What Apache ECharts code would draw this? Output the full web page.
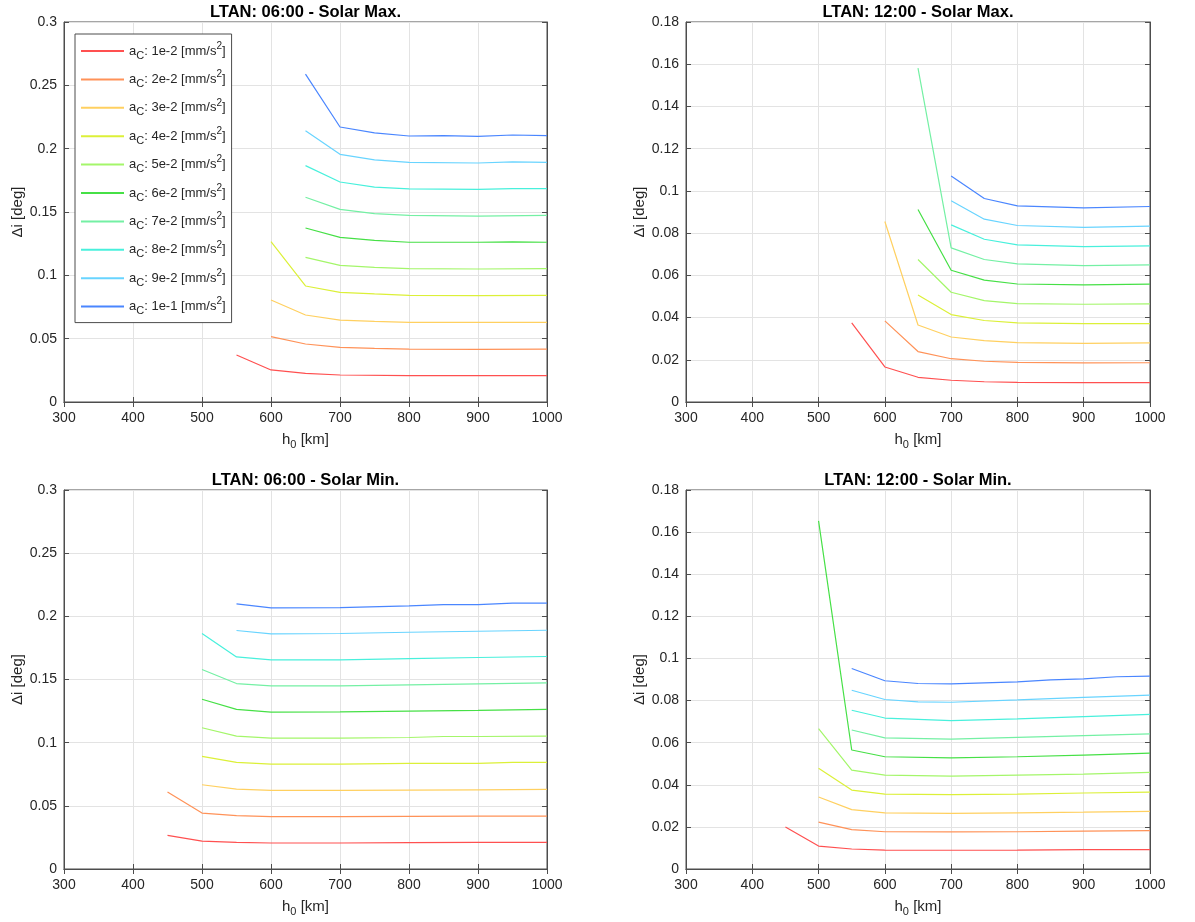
<!DOCTYPE html>
<html>
<head>
<meta charset="utf-8">
<script src="https://cdn.jsdelivr.net/npm/echarts@6/dist/echarts.min.js"></script>
<style>
  html, body { margin: 0; padding: 0; background: #fff; }
  #chart { width: 1195px; height: 922px; }
</style>
</head>
<body>
<div id="chart"></div>
<script>
// ---- data ----
const accelLabels = ['1e-2', '2e-2', '3e-2', '4e-2', '5e-2', '6e-2', '7e-2', '8e-2', '9e-2', '1e-1'];
const seriesColors = ['#ff5050', '#ff9258', '#ffd060', '#dcf038', '#a4f66a', '#46e046', '#74f0a4', '#48f0dc', '#68d4ff', '#4a86ff'];

const titles = ['LTAN: 06:00 - Solar Max.', 'LTAN: 12:00 - Solar Max.', 'LTAN: 06:00 - Solar Min.', 'LTAN: 12:00 - Solar Min.'];
const xTickMin = 300, xTickMax = 1000, xTickStep = 100;
const yMaxLeft = 0.3, yStepLeft = 0.05;
const yMaxRight = 0.18, yStepRight = 0.02;

// LTAN 06:00 - Solar Max : altitude [km] and delta-i [deg] per acceleration level
const alt06Max = [
  [550, 600, 650, 700, 800, 900, 1000],
  [600, 650, 700, 750, 800, 900, 1000],
  [600, 650, 700, 750, 800, 900, 1000],
  [600, 650, 700, 750, 800, 900, 1000],
  [650, 700, 750, 800, 900, 1000],
  [650, 700, 750, 800, 900, 950, 1000],
  [650, 700, 750, 800, 900, 1000],
  [650, 700, 750, 800, 900, 950, 1000],
  [650, 700, 750, 800, 900, 950, 1000],
  [650, 700, 750, 800, 850, 900, 950, 1000]
];
const di06Max = [
  [0.0371, 0.0253, 0.0226, 0.0213, 0.0208, 0.0208, 0.0208],
  [0.0516, 0.0458, 0.0432, 0.0424, 0.0418, 0.0416, 0.0418],
  [0.0805, 0.0687, 0.0647, 0.0637, 0.0629, 0.0629, 0.0629],
  [0.1266, 0.0916, 0.0866, 0.0853, 0.0842, 0.0840, 0.0842],
  [0.1142, 0.1079, 0.1063, 0.1053, 0.1050, 0.1053],
  [0.1374, 0.1300, 0.1276, 0.1261, 0.1261, 0.1264, 0.1261],
  [0.1616, 0.1521, 0.1487, 0.1474, 0.1468, 0.1474],
  [0.1866, 0.1737, 0.1697, 0.1682, 0.1679, 0.1684, 0.1684],
  [0.2142, 0.1955, 0.1911, 0.1892, 0.1887, 0.1895, 0.1892],
  [0.2589, 0.2171, 0.2124, 0.2100, 0.2103, 0.2097, 0.2108, 0.2103]
];

// LTAN 12:00 - Solar Max
const alt12Max = [
  [550, 600, 650, 700, 750, 800, 900, 1000],
  [600, 650, 700, 750, 800, 900, 1000],
  [600, 650, 700, 750, 800, 900, 1000],
  [650, 700, 750, 800, 900, 1000],
  [650, 700, 750, 800, 900, 1000],
  [650, 700, 750, 800, 900, 1000],
  [650, 700, 750, 800, 900, 1000],
  [700, 750, 800, 900, 1000],
  [700, 750, 800, 900, 1000],
  [700, 750, 800, 900, 1000]
];
const di12Max = [
  [0.0375, 0.0166, 0.0117, 0.0103, 0.0096, 0.0093, 0.0092, 0.0092],
  [0.0384, 0.0239, 0.0205, 0.0193, 0.0188, 0.0185, 0.0186],
  [0.0855, 0.0365, 0.0308, 0.0291, 0.0281, 0.0278, 0.0280],
  [0.0507, 0.0414, 0.0386, 0.0375, 0.0371, 0.0371],
  [0.0675, 0.0520, 0.0480, 0.0466, 0.0463, 0.0465],
  [0.0912, 0.0624, 0.0577, 0.0559, 0.0555, 0.0558],
  [0.1582, 0.0730, 0.0675, 0.0654, 0.0646, 0.0650],
  [0.0839, 0.0771, 0.0744, 0.0736, 0.0740],
  [0.0953, 0.0866, 0.0836, 0.0827, 0.0833],
  [0.1070, 0.0964, 0.0929, 0.0920, 0.0926]
];

// LTAN 06:00 - Solar Min
const alt06Min = [
  [450, 500, 550, 600, 700, 800, 900, 1000],
  [450, 500, 550, 600, 700, 800, 900, 1000],
  [500, 550, 600, 700, 800, 900, 1000],
  [500, 550, 600, 700, 800, 900, 950, 1000],
  [500, 550, 600, 700, 800, 850, 900, 1000],
  [500, 550, 600, 700, 800, 900, 1000],
  [500, 550, 600, 700, 800, 900, 1000],
  [500, 550, 600, 700, 800, 900, 1000],
  [550, 600, 700, 800, 900, 1000],
  [550, 600, 700, 800, 850, 900, 950, 1000]
];
const di06Min = [
  [0.0266, 0.0221, 0.0211, 0.0206, 0.0206, 0.0208, 0.0211, 0.0211],
  [0.0609, 0.0443, 0.0422, 0.0414, 0.0414, 0.0417, 0.0419, 0.0419],
  [0.0667, 0.0633, 0.0622, 0.0622, 0.0625, 0.0627, 0.0630],
  [0.0891, 0.0844, 0.0830, 0.0830, 0.0836, 0.0836, 0.0844, 0.0844],
  [0.1118, 0.1052, 0.1036, 0.1036, 0.1041, 0.1049, 0.1049, 0.1052],
  [0.1344, 0.1263, 0.1242, 0.1244, 0.1250, 0.1255, 0.1263],
  [0.1579, 0.1468, 0.1450, 0.1450, 0.1458, 0.1466, 0.1474],
  [0.1864, 0.1679, 0.1655, 0.1655, 0.1666, 0.1674, 0.1682],
  [0.1888, 0.1861, 0.1864, 0.1874, 0.1882, 0.1890],
  [0.2098, 0.2067, 0.2069, 0.2083, 0.2093, 0.2093, 0.2104, 0.2104]
];

// LTAN 12:00 - Solar Min
const alt12Min = [
  [450, 500, 550, 600, 700, 800, 900, 1000],
  [500, 550, 600, 700, 800, 900, 1000],
  [500, 550, 600, 700, 800, 900, 1000],
  [500, 550, 600, 700, 800, 900, 1000],
  [500, 550, 600, 700, 800, 900, 1000],
  [500, 550, 600, 700, 800, 900, 1000],
  [550, 600, 700, 800, 900, 1000],
  [550, 600, 700, 800, 900, 1000],
  [550, 600, 650, 700, 800, 900, 1000],
  [550, 600, 650, 700, 800, 850, 900, 950, 1000]
];
const di12Min = [
  [0.0199, 0.0109, 0.0095, 0.0090, 0.0089, 0.0090, 0.0092, 0.0092],
  [0.0223, 0.0187, 0.0177, 0.0176, 0.0177, 0.0180, 0.0182],
  [0.0342, 0.0282, 0.0267, 0.0264, 0.0267, 0.0270, 0.0274],
  [0.0478, 0.0375, 0.0356, 0.0353, 0.0356, 0.0361, 0.0365],
  [0.0667, 0.0470, 0.0446, 0.0441, 0.0446, 0.0451, 0.0459],
  [0.1653, 0.0565, 0.0533, 0.0528, 0.0533, 0.0541, 0.0550],
  [0.0660, 0.0623, 0.0617, 0.0625, 0.0633, 0.0642],
  [0.0754, 0.0717, 0.0705, 0.0713, 0.0724, 0.0734],
  [0.0849, 0.0805, 0.0794, 0.0792, 0.0803, 0.0815, 0.0826],
  [0.0952, 0.0894, 0.0881, 0.0879, 0.0889, 0.0898, 0.0903, 0.0913, 0.0916]
];

// ---- chart ----
const FONT = "'Liberation Sans', Arial, Helvetica, sans-serif";
const AX = '#4d4d4d';
const TXT = '#262626';

const panelAlts = [alt06Max, alt12Max, alt06Min, alt12Min];
const panelDis = [di06Max, di12Max, di06Min, di12Min];
const panelYMax = [yMaxLeft, yMaxRight, yMaxLeft, yMaxRight];
const panelYStep = [yStepLeft, yStepRight, yStepLeft, yStepRight];

const grids = [
  { left: 64, top: 22, width: 483, height: 380 },
  { left: 686, top: 22, width: 464, height: 380 },
  { left: 64, top: 490, width: 483, height: 379 },
  { left: 686, top: 490, width: 464, height: 379 }
];

const xAxes = [], yAxes = [], series = [], graphics = [];
grids.forEach((g, p) => {
  g.show = true; g.borderColor = AX; g.borderWidth = 1; g.backgroundColor = '#fff';
  xAxes.push({
    type: 'value', gridIndex: p, min: xTickMin, max: xTickMax, interval: xTickStep,
    position: 'bottom',
    axisLine: { show: true, lineStyle: { color: AX, width: 1 } },
    axisTick: { show: true, inside: true, length: 5, lineStyle: { color: AX } },
    axisLabel: { color: TXT, fontSize: 14, fontFamily: FONT, margin: 9, formatter: v => String(v) },
    splitLine: { show: true, lineStyle: { color: '#e3e3e3', width: 1 } },
    name: '{b|h}{s|0}{b| [km]}', nameLocation: 'middle', nameGap: 28,
    nameTextStyle: {
      rich: {
        b: { fontSize: 15, fontFamily: FONT, color: TXT, lineHeight: 20, verticalAlign: 'middle' },
        s: { fontSize: 11, fontFamily: FONT, color: TXT, lineHeight: 10, verticalAlign: 'bottom' }
      }
    }
  });
  xAxes.push({
    type: 'value', gridIndex: p, min: xTickMin, max: xTickMax, interval: xTickStep,
    position: 'top',
    axisLine: { show: true, lineStyle: { color: AX, width: 1 } },
    axisTick: { show: true, inside: true, length: 5, lineStyle: { color: AX } },
    axisLabel: { show: false }, splitLine: { show: false }
  });
  yAxes.push({
    type: 'value', gridIndex: p, min: 0, max: panelYMax[p], interval: panelYStep[p],
    position: 'left',
    axisLine: { show: true, lineStyle: { color: AX, width: 1 } },
    axisTick: { show: true, inside: true, length: 5, lineStyle: { color: AX } },
    axisLabel: { color: TXT, fontSize: 14, fontFamily: FONT, margin: 7 },
    splitLine: { show: true, lineStyle: { color: '#e3e3e3', width: 1 } },
    name: '\u0394i [deg]', nameLocation: 'middle', nameGap: 37,
    nameTextStyle: { fontSize: 15, fontFamily: FONT, color: TXT }
  });
  yAxes.push({
    type: 'value', gridIndex: p, min: 0, max: panelYMax[p], interval: panelYStep[p],
    position: 'right',
    axisLine: { show: true, lineStyle: { color: AX, width: 1 } },
    axisTick: { show: true, inside: true, length: 5, lineStyle: { color: AX } },
    axisLabel: { show: false }, splitLine: { show: false }
  });

  const alts = panelAlts[p], dis = panelDis[p];
  accelLabels.forEach((lab, i) => {
    series.push({
      type: 'line', name: lab, xAxisIndex: 2 * p, yAxisIndex: 2 * p,
      data: alts[i].map((h, j) => [h, dis[i][j]]),
      symbol: 'none', showSymbol: false, silent: true,
      lineStyle: { color: seriesColors[i], width: 1.2 },
      itemStyle: { color: seriesColors[i] },
      emphasis: { disabled: true }
    });
  });

  graphics.push({
    type: 'text', x: g.left + g.width / 2, y: g.top - 10,
    style: { text: titles[p], font: 'bold 16.5px ' + FONT, fill: '#000', align: 'center', verticalAlign: 'middle' }
  });
});

const option = {
  animation: false,
  backgroundColor: '#fff',
  grid: grids,
  xAxis: xAxes,
  yAxis: yAxes,
  series: series,
  graphic: graphics,
  legend: {
    show: true, left: 75, top: 34, orient: 'vertical',
    data: accelLabels,
    selectedMode: false,
    icon: 'rect',
    padding: [7, 6, 6, 6],
    itemWidth: 43, itemHeight: 2, itemGap: 8.4,
    backgroundColor: '#fff', borderColor: AX, borderWidth: 1, borderRadius: 0,
    formatter: name => '{b|a}{s|C}{b|: ' + name + ' [mm/s}{p|2}{b|]}',
    textStyle: {
      rich: {
        b: { fontSize: 13, fontFamily: FONT, color: TXT, lineHeight: 20, verticalAlign: 'middle' },
        s: { fontSize: 11, fontFamily: FONT, color: TXT, lineHeight: 10, verticalAlign: 'bottom' },
        p: { fontSize: 10, fontFamily: FONT, color: TXT, lineHeight: 10, verticalAlign: 'top' }
      }
    }
  }
};

const chart = echarts.init(document.getElementById('chart'), null, { renderer: 'canvas' });
chart.setOption(option);
</script>
</body>
</html>
